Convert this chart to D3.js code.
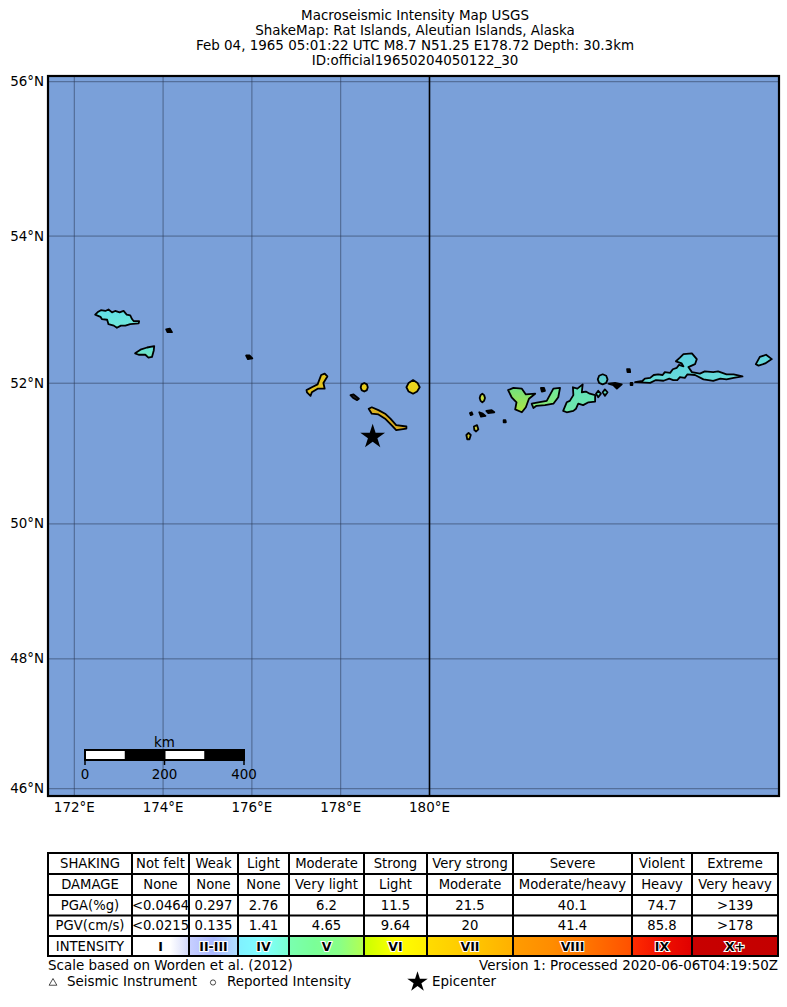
<!DOCTYPE html>
<html>
<head>
<meta charset="utf-8">
<title>Macroseismic Intensity Map</title>
<script src="https://cdn.jsdelivr.net/npm/d3@7"></script>
<style>
    html, body { margin: 0; padding: 0; background: #fff; }
    svg { display: block; }
    text { font-family: "DejaVu Sans", sans-serif; fill: #000; }
</style>
</head>
<body>
<div id="chart"></div>
<script>
// ---------------------------------------------------------------------------- //
//                                     Data                                     //
// ---------------------------------------------------------------------------- //
var titleLines = [
    "Macroseismic Intensity Map USGS",
    "ShakeMap: Rat Islands, Aleutian Islands, Alaska",
    "Feb 04, 1965 05:01:22 UTC M8.7 N51.25 E178.72 Depth: 30.3km",
    "ID:official19650204050122_30"
];
var lonTicks = [172, 174, 176, 178, 180];
var latTicks = [46, 48, 50, 52, 54, 56];
var epicenter = [178.72, 51.25];

// island outlines, [lon east, lat north], lon keeps running past 180
var attu = [[172.47,52.93],[172.54,52.97],[172.60,52.99],[172.70,52.98],[172.77,53.00],[172.85,52.96],[172.92,52.98],[173.02,52.96],[173.11,52.98],[173.18,52.93],[173.26,52.92],[173.30,52.87],[173.34,52.84],[173.46,52.84],[173.45,52.81],[173.26,52.80],[173.15,52.78],[173.05,52.78],[172.96,52.75],[172.89,52.78],[172.77,52.80],[172.74,52.86],[172.62,52.87],[172.59,52.90]];
var agattu = [[173.37,52.40],[173.49,52.45],[173.64,52.48],[173.80,52.50],[173.79,52.44],[173.75,52.35],[173.67,52.34],[173.60,52.38],[173.45,52.38]];
var alaid = [[174.07,52.73],[174.15,52.74],[174.20,52.69],[174.10,52.69]];
var buldir = [[175.87,52.37],[175.95,52.37],[176.01,52.33],[175.91,52.32]];
var kiska = [[177.23,51.89],[177.35,51.93],[177.48,51.97],[177.56,52.10],[177.64,52.12],[177.70,52.08],[177.61,51.99],[177.64,51.91],[177.48,51.91],[177.35,51.86],[177.32,51.81],[177.24,51.86]];
var segula = [[178.45,51.93],[178.47,51.97],[178.53,51.99],[178.59,51.97],[178.61,51.93],[178.59,51.89],[178.53,51.87],[178.47,51.89]];
var davidof = [[178.22,51.82],[178.29,51.83],[178.41,51.77],[178.37,51.75],[178.28,51.78]];
var amchitka = [[178.63,51.63],[178.70,51.65],[178.85,51.61],[179.00,51.56],[179.12,51.49],[179.25,51.40],[179.48,51.38],[179.48,51.35],[179.25,51.33],[179.16,51.39],[179.00,51.49],[178.85,51.55],[178.70,51.56]];
var semisopochnoi = [[179.48,51.93],[179.53,51.99],[179.63,52.03],[179.73,51.99],[179.78,51.93],[179.72,51.87],[179.63,51.84],[179.53,51.87]];
var gareloi = [[181.13,51.78],[181.15,51.82],[181.19,51.84],[181.23,51.82],[181.25,51.78],[181.23,51.74],[181.19,51.72],[181.15,51.74]];
var islet1 = [[180.91,51.57],[180.95,51.58],[180.97,51.55],[180.93,51.54]];
var islet2 = [[181.12,51.58],[181.20,51.56],[181.26,51.53],[181.16,51.52]];
var islet3 = [[181.28,51.60],[181.40,51.61],[181.46,51.58],[181.32,51.57]];
var islet4 = [[181.67,51.47],[181.71,51.47],[181.72,51.44],[181.67,51.44]];
var islet5 = [[181.00,51.38],[181.07,51.40],[181.10,51.34],[181.05,51.31],[181.01,51.33]];
var islet6 = [[180.83,51.26],[180.88,51.29],[180.93,51.26],[180.90,51.20],[180.85,51.20]];
var tanaga = [[181.77,51.89],[181.89,51.92],[182.08,51.91],[182.17,51.83],[182.38,51.84],[182.24,51.77],[182.17,51.65],[182.08,51.58],[181.93,51.62],[181.96,51.72],[181.85,51.79]];
var islet7 = [[182.51,51.92],[182.58,51.92],[182.60,51.88],[182.53,51.87]];
var kanaga = [[182.30,51.70],[182.45,51.72],[182.64,51.74],[182.79,51.91],[182.94,51.92],[182.90,51.79],[182.79,51.70],[182.60,51.68],[182.41,51.67],[182.34,51.64]];
var atka = [[183.01,51.60],[183.09,51.72],[183.16,51.74],[183.24,51.82],[183.23,51.93],[183.33,51.91],[183.45,51.97],[183.43,51.86],[183.52,51.87],[183.61,51.84],[183.73,51.82],[183.73,51.73],[183.58,51.72],[183.46,51.68],[183.35,51.70],[183.30,51.63],[183.24,51.60],[183.09,51.58]];
var islet8 = [[183.75,51.84],[183.80,51.88],[183.86,51.84],[183.80,51.79]];
var islet9 = [[183.90,51.86],[183.95,51.90],[184.01,51.86],[183.95,51.81]];
var seguam = [[183.79,52.04],[183.82,52.09],[183.90,52.11],[183.98,52.09],[184.01,52.04],[183.98,51.99],[183.90,51.97],[183.82,51.99]];
var islet10 = [[184.03,51.98],[184.18,51.99],[184.33,51.97],[184.22,51.91],[184.14,51.96]];
var islet11 = [[184.45,52.18],[184.51,52.18],[184.52,52.14],[184.46,52.14]];
var islet12 = [[184.53,51.99],[184.57,51.99],[184.57,51.96],[184.53,51.96]];
var umnak = [[184.63,52.00],[184.80,52.02],[184.85,52.05],[184.97,52.06],[185.05,52.10],[185.15,52.11],[185.25,52.10],[185.30,52.14],[185.42,52.13],[185.48,52.18],[185.57,52.20],[185.62,52.24],[185.72,52.22],[185.68,52.26],[185.55,52.29],[185.64,52.34],[185.72,52.39],[185.91,52.40],[186.02,52.32],[185.98,52.25],[185.83,52.21],[185.91,52.14],[186.09,52.12],[186.20,52.15],[186.39,52.14],[186.50,52.15],[186.69,52.11],[186.85,52.11],[187.05,52.08],[186.85,52.06],[186.69,52.04],[186.55,52.05],[186.39,52.02],[186.17,52.04],[185.98,52.10],[185.81,52.11],[185.75,52.06],[185.64,52.07],[185.58,52.03],[185.49,52.03],[185.40,52.05],[185.27,52.02],[185.10,52.03],[184.97,51.99]];
var eastIsle = [[187.35,52.25],[187.44,52.35],[187.58,52.38],[187.71,52.32],[187.56,52.26],[187.41,52.23]];

var shakingRow = ["SHAKING", "Not felt", "Weak", "Light", "Moderate", "Strong", "Very strong", "Severe", "Violent", "Extreme"];
var damageRow = ["DAMAGE", "None", "None", "None", "Very light", "Light", "Moderate", "Moderate/heavy", "Heavy", "Very heavy"];
var pgaRow = ["PGA(%g)", "<0.0464", "0.297", "2.76", "6.2", "11.5", "21.5", "40.1", "74.7", ">139"];
var pgvRow = ["PGV(cm/s)", "<0.0215", "0.135", "1.41", "4.65", "9.64", "20", "41.4", "85.8", ">178"];
var intensityRow = ["INTENSITY", "I", "II-III", "IV", "V", "VI", "VII", "VIII", "IX", "X+"];
var scaleKm = [0, 200, 400];

// ---------------------------------------------------------------------------- //
//                             Constants & Variables                            //
// ---------------------------------------------------------------------------- //
var WIDTH = 787, HEIGHT = 1007;
var MAP = {left: 48, right: 779, top: 76, bottom: 796};
var COLOR_OCEAN = "#7aa0d9";
var COLOR_GRID = "#2c3b58";
var FONT_SIZE = 13.45;
var COL_EDGES = [48, 132, 189, 238, 289, 364, 427, 513, 632, 692, 778];
var ROW_EDGES = [853, 874, 895, 915.5, 936, 956];
var ISLAND_LAT_SHIFT = 0.014;   // outlines were read with 52N one pixel too high

// fills per island, top colour then bottom colour
var islands = [
    [attu, "#5fdfe8", "#72e8d8"], [agattu, "#5fdfe0", "#78e8b8"], [alaid, "#000", "#000"], [buldir, "#000", "#000"],
    [kiska, "#e6c81e", "#e0c020"], [segula, "#e8cc1c", "#e8cc1c"], [davidof, "#222", "#222"], [amchitka, "#dcb420", "#d8a81c"],
    [semisopochnoi, "#ecd81c", "#e4cc1c"], [gareloi, "#c8e040", "#c8e040"], [islet1, "#000", "#000"], [islet2, "#000", "#000"],
    [islet3, "#000", "#000"], [islet4, "#000", "#000"], [islet5, "#d0d040", "#d0d040"], [islet6, "#d0c830", "#d0c830"],
    [tanaga, "#70e080", "#b0e840"], [islet7, "#000", "#000"], [kanaga, "#70e8a0", "#88e870"], [atka, "#60e0c0", "#70e8a8"],
    [islet8, "#60dcc0", "#60dcc0"], [islet9, "#60dcc0", "#60dcc0"], [seguam, "#58c8d8", "#68d8c8"], [islet10, "#000", "#000"],
    [islet11, "#000", "#000"], [islet12, "#000", "#000"], [umnak, "#5cd0e0", "#68dcd8"], [eastIsle, "#5cd0e0", "#68dcd8"]
];

// gradient stops of the intensity cells, left to right
var intensityFills = [
    null,
    ["#ffffff", "#ffffff", "#ffffff", "#d2d8fa"],
    ["#c8d0ff", "#aab8ff", "#b0e0ff"],
    ["#80f0ff", "#80ffff", "#7affd0"],
    ["#7affb0", "#7aff98", "#88ff88", "#b4ff50"],
    ["#c8ff00", "#ffff00", "#ffee00"],
    ["#ffdc00", "#ffc800", "#ffb000"],
    ["#ff9c00", "#ff8c00", "#ff7000", "#ff5000"],
    ["#ff2c00", "#f01000", "#e00000"],
    ["#c80000", "#c40000"]
];

// ---------------------------------------------------------------------------- //
//                                     Draw                                     //
// ---------------------------------------------------------------------------- //
var svg = d3.select("#chart").append("svg")
    .attr("width", WIDTH)
    .attr("height", HEIGHT);
var defs = svg.append("defs");

// Title
//________________________________________________________________________________
svg.append("g").selectAll("text").data(titleLines).join("text")
    .attr("x", 415)
    .attr("y", function(d, i) { return 20 + i * 15; })
    .attr("text-anchor", "middle")
    .attr("font-size", FONT_SIZE)
    .text(function(d) { return d; });

// Map
//________________________________________________________________________________
var projection = d3.geoMercator()
    .rotate([-180, 0])
    .scale(2544)
    .translate([429.5, 3094.4]);

// the picture is very slightly squashed in y against true mercator
var fitY = d3.scaleLinear()
    .domain([projection([180, 56])[1], projection([180, 46])[1]])
    .range([81.7, 788.7]);

function px(d) { return projection(d)[0]; }
function py(d) { return fitY(projection(d)[1]); }
function lonX(lon) { return px([lon, 50]); }
function latY(lat) { return py([180, lat]); }

svg.append("clipPath").attr("id", "mapClip").append("rect")
    .attr("x", MAP.left).attr("y", MAP.top)
    .attr("width", MAP.right - MAP.left).attr("height", MAP.bottom - MAP.top);

var map = svg.append("g").attr("clip-path", "url(#mapClip)");
map.append("rect")
    .attr("x", MAP.left).attr("y", MAP.top)
    .attr("width", MAP.right - MAP.left).attr("height", MAP.bottom - MAP.top)
    .attr("fill", COLOR_OCEAN);

// grid
map.append("g").selectAll("line").data(lonTicks.slice(0, 4)).join("line")
    .attr("x1", lonX).attr("x2", lonX)
    .attr("y1", MAP.top).attr("y2", MAP.bottom)
    .attr("stroke", COLOR_GRID).attr("stroke-width", 0.6);
map.append("g").selectAll("line").data(latTicks).join("line")
    .attr("x1", MAP.left).attr("x2", MAP.right)
    .attr("y1", latY).attr("y2", latY)
    .attr("stroke", COLOR_GRID).attr("stroke-width", 0.6);

// date line is heavier than the rest of the grid
map.append("line")
    .attr("x1", lonX(180)).attr("x2", lonX(180))
    .attr("y1", MAP.top).attr("y2", MAP.bottom)
    .attr("stroke", "#000").attr("stroke-width", 1.6);

// islands
var ringLine = d3.line()
    .x(px)
    .y(function(d) { return py([d[0], d[1] + ISLAND_LAT_SHIFT]); })
    .curve(d3.curveLinearClosed);
islands.forEach(function(isle, i) {
    var gradId = "isle" + i;
    var grad = defs.append("linearGradient").attr("id", gradId)
        .attr("x1", 0).attr("x2", 0).attr("y1", 0).attr("y2", 1);
    grad.append("stop").attr("offset", 0).attr("stop-color", isle[1]);
    grad.append("stop").attr("offset", 1).attr("stop-color", isle[2]);
    map.append("path")
        .attr("d", ringLine(isle[0]))
        .attr("fill", "url(#" + gradId + ")")
        .attr("stroke", "#000")
        .attr("stroke-width", 1.8)
        .attr("stroke-linejoin", "round");
});

// epicenter
map.append("path")
    .attr("d", d3.symbol(d3.symbolStar, 190)())
    .attr("transform", "translate(" + px(epicenter) + "," + py(epicenter) + ")")
    .attr("fill", "#000");

// scale bar
var km = d3.scaleLinear().domain([0, 400]).range([85, 244]);
map.append("rect")
    .attr("x", km(0) - 1).attr("y", 749)
    .attr("width", km(400) - km(0) + 2).attr("height", 12)
    .attr("fill", "#000");
[[0, 100], [200, 300]].forEach(function(seg) {
    map.append("rect")
        .attr("x", km(seg[0]) + 1).attr("y", 751)
        .attr("width", km(seg[1]) - km(seg[0]) - 1).attr("height", 8)
        .attr("fill", "#fff");
});
map.append("g").selectAll("line").data(scaleKm).join("line")
    .attr("x1", km).attr("x2", km)
    .attr("y1", 760).attr("y2", 765)
    .attr("stroke", "#000").attr("stroke-width", 1.5);
map.append("g").selectAll("text").data(scaleKm).join("text")
    .attr("x", km).attr("y", 779)
    .attr("text-anchor", "middle")
    .attr("font-size", FONT_SIZE)
    .text(function(d) { return d; });
map.append("text")
    .attr("x", km(200)).attr("y", 747)
    .attr("text-anchor", "middle")
    .attr("font-size", FONT_SIZE)
    .text("km");

// frame
svg.append("rect")
    .attr("x", MAP.left).attr("y", MAP.top)
    .attr("width", MAP.right - MAP.left).attr("height", MAP.bottom - MAP.top)
    .attr("fill", "none").attr("stroke", "#000").attr("stroke-width", 2.2);

// axis labels
svg.append("g").selectAll("text").data(lonTicks).join("text")
    .attr("x", lonX).attr("y", 812)
    .attr("text-anchor", "middle")
    .attr("font-size", FONT_SIZE)
    .text(function(d) { return d + "°E"; });
svg.append("g").selectAll("text").data(latTicks).join("text")
    .attr("x", 44).attr("y", function(d) { return latY(d) + 4.5; })
    .attr("text-anchor", "end")
    .attr("font-size", FONT_SIZE)
    .text(function(d) { return d + "°N"; });

// Legend table
//________________________________________________________________________________
var table = svg.append("g");

intensityFills.forEach(function(stops, c) {
    if (stops == null) { return; }
    var gradId = "cell" + c;
    var grad = defs.append("linearGradient").attr("id", gradId);
    stops.forEach(function(s, k) {
        grad.append("stop").attr("offset", k / (stops.length - 1)).attr("stop-color", s);
    });
    table.append("rect")
        .attr("x", COL_EDGES[c]).attr("y", ROW_EDGES[4])
        .attr("width", COL_EDGES[c + 1] - COL_EDGES[c]).attr("height", ROW_EDGES[5] - ROW_EDGES[4])
        .attr("fill", "url(#" + gradId + ")");
});

[shakingRow, damageRow, pgaRow, pgvRow].forEach(function(row, r) {
    table.append("g").selectAll("text").data(row).join("text")
        .attr("x", function(d, c) { return (COL_EDGES[c] + COL_EDGES[c + 1]) / 2; })
        .attr("y", (ROW_EDGES[r] + ROW_EDGES[r + 1]) / 2 + 4.5)
        .attr("text-anchor", "middle")
        .attr("font-size", 13.2)
        .text(function(d) { return d; });
});

// intensity row, numerals get a white halo
table.append("g").selectAll("text").data(intensityRow).join("text")
    .attr("x", function(d, c) { return (COL_EDGES[c] + COL_EDGES[c + 1]) / 2; })
    .attr("y", (ROW_EDGES[4] + ROW_EDGES[5]) / 2 + 4.5)
    .attr("text-anchor", "middle")
    .attr("font-size", function(d, c) { return c == 0 ? 13.2 : 12.5; })
    .attr("font-weight", function(d, c) { return c == 0 ? "normal" : "bold"; })
    .attr("stroke", function(d, c) { return c == 0 ? "none" : "#fff"; })
    .attr("stroke-width", 2.2)
    .attr("paint-order", "stroke")
    .text(function(d) { return d; });

table.append("g").selectAll("line").data(COL_EDGES).join("line")
    .attr("x1", function(d) { return d; }).attr("x2", function(d) { return d; })
    .attr("y1", ROW_EDGES[0]).attr("y2", ROW_EDGES[5])
    .attr("stroke", "#000").attr("stroke-width", 2);
table.append("g").selectAll("line").data(ROW_EDGES).join("line")
    .attr("x1", COL_EDGES[0] - 1).attr("x2", COL_EDGES[10] + 1)
    .attr("y1", function(d) { return d; }).attr("y2", function(d) { return d; })
    .attr("stroke", "#000").attr("stroke-width", 2);

// Footer
//________________________________________________________________________________
svg.append("text").attr("x", 48).attr("y", 970).attr("font-size", FONT_SIZE)
    .text("Scale based on Worden et al. (2012)");
svg.append("text").attr("x", 778).attr("y", 970).attr("text-anchor", "end").attr("font-size", FONT_SIZE)
    .text("Version 1: Processed 2020-06-06T04:19:50Z");
svg.append("path")
    .attr("d", d3.symbol(d3.symbolTriangle, 26)())
    .attr("transform", "translate(53,983)")
    .attr("fill", "none").attr("stroke", "#000").attr("stroke-width", 0.7);
svg.append("text").attr("x", 67).attr("y", 986).attr("font-size", FONT_SIZE).text("Seismic Instrument");
svg.append("circle").attr("cx", 213).attr("cy", 982.5).attr("r", 2.6)
    .attr("fill", "none").attr("stroke", "#000").attr("stroke-width", 0.7);
svg.append("text").attr("x", 227).attr("y", 986).attr("font-size", FONT_SIZE).text("Reported Intensity");
svg.append("path")
    .attr("d", d3.symbol(d3.symbolStar, 130)())
    .attr("transform", "translate(417.5,982)")
    .attr("fill", "#000");
svg.append("text").attr("x", 432).attr("y", 986).attr("font-size", FONT_SIZE).text("Epicenter");
</script>
</body>
</html>
